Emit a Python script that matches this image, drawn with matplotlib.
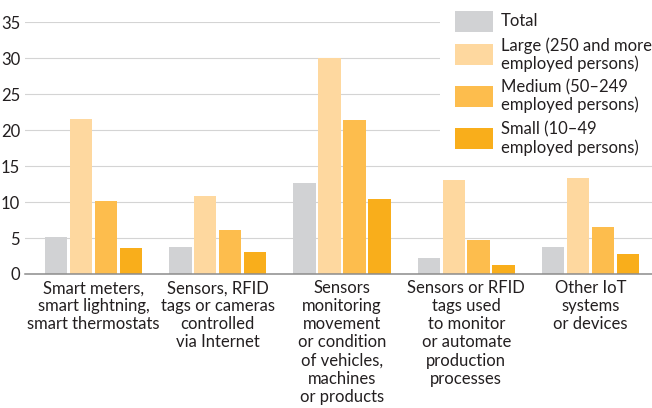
import matplotlib
matplotlib.use("Agg")
import matplotlib.pyplot as plt
from matplotlib.patches import Rectangle
import numpy as np

categories = [
    "Smart meters,\nsmart lightning,\nsmart thermostats",
    "Sensors, RFID\ntags or cameras\ncontrolled\nvia Internet",
    "Sensors\nmonitoring\nmovement\nor condition\nof vehicles,\nmachines\nor products",
    "Sensors or RFID\ntags used\nto monitor\nor automate\nproduction\nprocesses",
    "Other IoT\nsystems\nor devices",
]
series_names = [
    "Total",
    "Large (250 and more\nemployed persons)",
    "Medium (50\u2013249\nemployed persons)",
    "Small (10\u201349\nemployed persons)",
]
total = [5.2, 3.7, 12.7, 2.2, 3.7]
large = [21.5, 10.9, 30.0, 13.0, 13.3]
medium = [10.1, 6.1, 21.4, 4.7, 6.5]
small = [3.6, 3.0, 10.4, 1.3, 2.8]
yticks = [0, 5, 10, 15, 20, 25, 30, 35]

colors = ["#D1D2D4", "#FED89F", "#FDBD4D", "#F9AE1B"]
FONT = ["Lato", "DejaVu Sans"]
FS = 12.0
TXT = "#231F20"

plt.rcParams['font.family'] = FONT

W, H = 652, 408
fig = plt.figure(figsize=(W / 100, H / 100), dpi=100)
ax = fig.add_axes([25 / W, (H - 274) / H, 627 / W, (274 - 22.2) / H])

x = np.arange(len(categories))
step = 0.201
bw = 0.181
for i, vals in enumerate([total, large, medium, small]):
    ax.bar(x + (i - 1.5) * step, vals, width=bw, color=colors[i], zorder=3,
           linewidth=0)

ax.set_xlim(-0.551, 4.495)
ax.set_ylim(0, 35)
ax.set_yticks(yticks)
ax.set_yticklabels([str(t) for t in yticks])
ax.yaxis.grid(True, color="#D4D4D4", linewidth=0.8, zorder=0)
ax.set_axisbelow(True)
for s in ["top", "right", "left"]:
    ax.spines[s].set_visible(False)
ax.spines["bottom"].set_color("#8C8C8C")
ax.spines["bottom"].set_linewidth(1.1)
ax.spines["bottom"].set_zorder(4)
ax.set_xticks(x)
ax.set_xticklabels(categories, fontsize=FS, color=TXT, linespacing=1.16,
                   multialignment="center")
ax.tick_params(axis="x", length=0, pad=4.5)
ax.tick_params(axis="y", length=0, pad=3.5, labelsize=FS, labelcolor=TXT)

# legend (drawn in figure pixel coordinates)
fig.add_artist(Rectangle((440 / W, 1 - 155 / H), 212 / W, 155 / H,
                         transform=fig.transFigure, facecolor="white",
                         edgecolor="none", zorder=5))
patch_tops = [11, 44.3, 86, 128.3]
for i, name in enumerate(series_names):
    top = patch_tops[i]
    fig.add_artist(Rectangle((455 / W, 1 - (top + 20.6) / H), 38 / W, 20.6 / H,
                             transform=fig.transFigure, facecolor=colors[i],
                             edgecolor="none", zorder=6))
    fig.text(501 / W, 1 - (top + 10.3) / H, name, fontsize=FS, color=TXT,
             va="center", ha="left", linespacing=1.12, zorder=7)

fig.savefig("out.png", dpi=100)
